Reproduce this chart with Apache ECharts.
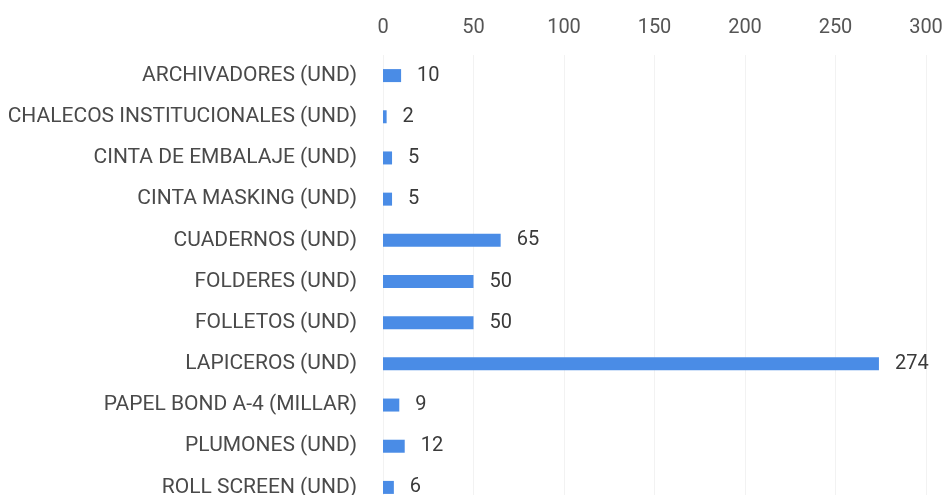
<!DOCTYPE html>
<html>
<head>
<meta charset="utf-8">
<script src="https://cdn.jsdelivr.net/npm/echarts@6/dist/echarts.min.js"></script>
<style>
  html, body { margin: 0; padding: 0; background: #fff; }
  #chart { width: 948px; height: 495px; }
</style>
</head>
<body>
<div id="chart"></div>
<script>
const categories = [
  'ARCHIVADORES (UND)',
  'CHALECOS INSTITUCIONALES (UND)',
  'CINTA DE EMBALAJE (UND)',
  'CINTA MASKING (UND)',
  'CUADERNOS (UND)',
  'FOLDERES (UND)',
  'FOLLETOS (UND)',
  'LAPICEROS (UND)',
  'PAPEL BOND A-4 (MILLAR)',
  'PLUMONES (UND)',
  'ROLL SCREEN (UND)'
];
const cantidades = [10, 2, 5, 5, 65, 50, 50, 274, 9, 12, 6];

const font = 'Roboto, sans-serif';

const chart = echarts.init(document.getElementById('chart'));
const option = {
  animation: false,
  // la ultima fila queda cortada por el borde inferior, como en la captura
  grid: { left: 383, right: 22, top: 55, height: 453, outerBoundsMode: 'none' },
  xAxis: {
    type: 'value',
    position: 'top',
    min: 0,
    max: 300,
    interval: 50,
    axisLine: { show: false },
    axisTick: { show: false },
    axisLabel: { color: '#555', fontFamily: font, fontSize: 20, margin: 17 },
    splitLine: { lineStyle: { color: '#f2f2f2' } }
  },
  yAxis: {
    type: 'category',
    inverse: true,
    data: categories,
    axisLine: { show: false },
    axisTick: { show: false },
    axisLabel: { color: '#4a4a4a', fontFamily: font, fontSize: 21, margin: 26 }
  },
  series: [
    {
      type: 'bar',
      data: cantidades,
      barWidth: 13,
      itemStyle: { color: '#4a8ce6' },
      label: {
        show: true,
        position: 'right',
        distance: 16,
        color: '#3a3a3a',
        fontFamily: font,
        fontSize: 20
      }
    }
  ]
};
chart.setOption(option);
</script>
</body>
</html>
